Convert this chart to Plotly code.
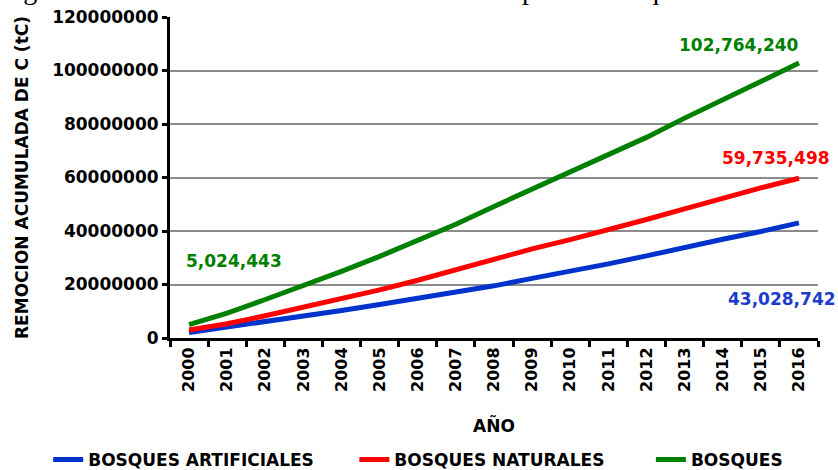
import plotly.graph_objects as go

# Remoción acumulada de carbono (tC) por año
years = [str(y) for y in range(2000, 2017)]

bosques_artificiales = [2054443, 4000000, 6100000, 8200000, 10300000, 12500000,
                        14700000, 17000000, 19500000, 22300000, 24900000, 27700000,
                        30700000, 33900000, 36900000, 39800000, 43028742]
bosques_naturales = [2970000, 5300000, 8300000, 11400000, 14600000, 18000000,
                     21600000, 25500000, 29700000, 33300000, 36800000, 40400000,
                     44300000, 48300000, 52400000, 56100000, 59735498]
bosques = [5024443, 9300000, 14400000, 19600000, 24900000, 30500000,
           36300000, 42500000, 49200000, 55600000, 61700000, 68100000,
           75000000, 82200000, 89300000, 95900000, 102764240]

series_names = ["BOSQUES ARTIFICIALES", "BOSQUES NATURALES", "BOSQUES"]
series_colors = ["#0033CC", "#FF0000", "#008000"]
legend_pads = [6, 7, 0]  # non-breaking spaces after each legend entry

FONT = "DejaVu Sans"
last = len(years) - 1

fig = go.Figure()
for name, vals, col, pad in zip(series_names,
                                [bosques_artificiales, bosques_naturales, bosques],
                                series_colors, legend_pads):
    fig.add_trace(go.Scatter(x=years, y=vals, name=name + "\u00a0" * pad, mode="lines",
                             line=dict(color=col, width=5)))

def fmt(v):
    return f"{v:,}"

def label_font(color):
    return dict(family=FONT, size=17, color=color, weight="bold")

# value labels at the series ends
fig.add_annotation(x=last, y=bosques[-1], text=fmt(bosques[-1]),
                   showarrow=False, xanchor="right", yanchor="bottom",
                   xshift=2, yshift=6, font=label_font("#008000"))
fig.add_annotation(x=last, y=bosques_naturales[-1], text=fmt(bosques_naturales[-1]),
                   showarrow=False, xanchor="right", yanchor="bottom",
                   xshift=33, yshift=8, font=label_font("#FF0000"))
fig.add_annotation(x=last, y=bosques_artificiales[-1], text=fmt(bosques_artificiales[-1]),
                   showarrow=False, xanchor="right", yanchor="top",
                   xshift=39, yshift=-64, font=label_font("#1A3CC8"))
fig.add_annotation(x=0, y=bosques[0], text=fmt(bosques[0]),
                   showarrow=False, xanchor="left", yanchor="middle",
                   xshift=-5, yshift=64, font=label_font("#008000"))

# caption above the chart
fig.add_annotation(xref="paper", yref="paper", x=0, y=1, xshift=-172, yshift=10,
                   xanchor="left", yanchor="bottom", showarrow=False,
                   text="Figura IV.1. Remoción acumulada de carbono por los bosques.",
                   font=dict(family="Liberation Serif", size=28, color="#000000",
                             weight="normal"))

fig.update_layout(
    width=838, height=470,
    margin=dict(l=170, r=20, t=17, b=132, autoexpand=False),
    paper_bgcolor="white", plot_bgcolor="white",
    font=dict(family=FONT, size=17, color="#000000", weight="bold"),
    showlegend=True,
    legend=dict(orientation="h", x=-0.188, xanchor="left", y=-0.38, yanchor="middle",
                font=dict(family=FONT, size=17, color="#000000", weight="bold"),
                itemwidth=30, tracegroupgap=0, bgcolor="rgba(0,0,0,0)"),
    xaxis=dict(
        type="category", range=[-0.5, 16.5], automargin=False,
        showline=True, linecolor="#000000", linewidth=3,
        ticks="outside", tickson="boundaries", ticklen=6, tickwidth=3, tickcolor="#000000",
        tickangle=-90, showgrid=False,
        tickfont=dict(family=FONT, size=16, color="#000000", weight="bold"),
        title=dict(text="AÑO", standoff=30,
                   font=dict(family=FONT, size=17, color="#000000", weight="bold")),
    ),
    yaxis=dict(
        range=[0, 120000000], dtick=20000000, tickformat="d", automargin=False,
        showline=True, linecolor="#000000", linewidth=3,
        ticks="outside", ticklen=5, tickwidth=3, tickcolor="#000000",
        showgrid=True, gridcolor="#8C8C8C", gridwidth=2, zeroline=False,
        tickfont=dict(family=FONT, size=17, color="#000000", weight="bold"),
        title=dict(text="REMOCION ACUMULADA DE C (tC)", standoff=20,
                   font=dict(family=FONT, size=17, color="#000000", weight="bold")),
    ),
)

fig.write_html("out.html")
